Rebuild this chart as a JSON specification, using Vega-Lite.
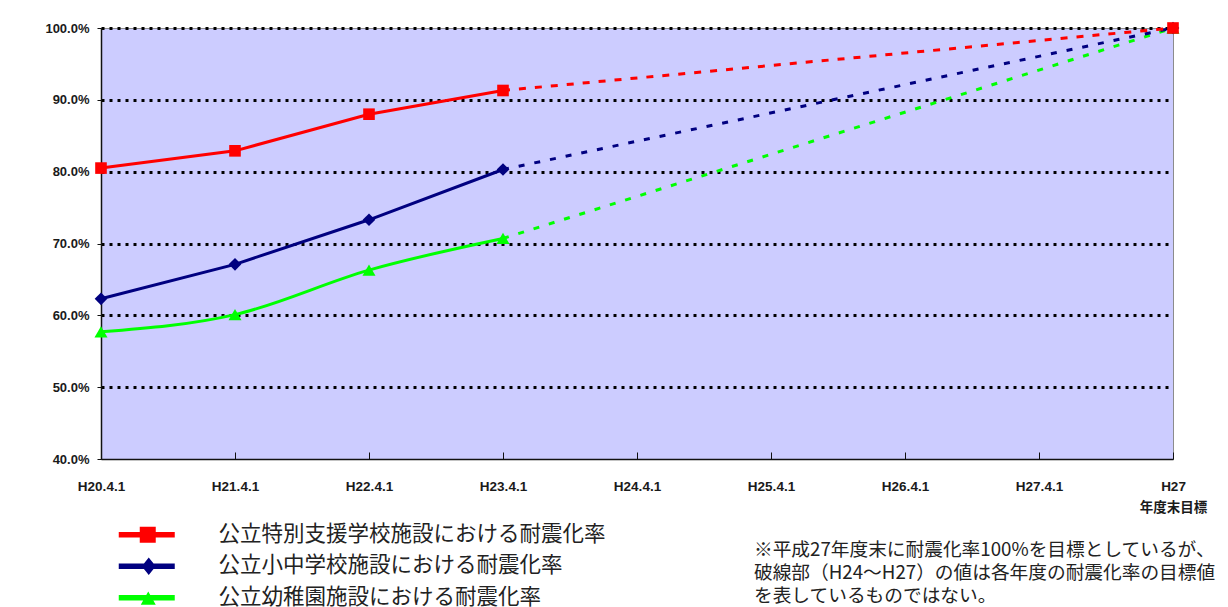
{
  "$schema": "https://vega.github.io/schema/vega-lite/v6.json",
  "width": 1072,
  "height": 431,
  "autosize": {"type": "none"},
  "padding": {"left": 101, "top": 28, "right": 55, "bottom": 148},
  "background": "white",
  "config": {
    "view": {"fill": "#CCCCFF", "stroke": "#8C8C8C", "strokeWidth": 1},
    "legend": {
      "labelFont": "Noto Sans CJK JP",
      "labelFontSize": 21.5,
      "labelColor": "#222222",
      "labelLimit": 600,
      "symbolSize": 400,
      "symbolStrokeWidth": 0,
      "symbolOpacity": 1,
      "padding": 0
    }
  },
  "title": {
    "text": [
      "※平成27年度末に耐震化率100%を目標としているが、",
      "破線部（H24～H27）の値は各年度の耐震化率の目標値",
      "を表しているものではない。"
    ],
    "orient": "bottom",
    "anchor": "start",
    "frame": "group",
    "dx": 653,
    "offset": -68,
    "font": "Noto Sans CJK JP",
    "fontSize": 18.7,
    "fontWeight": "normal",
    "color": "#222222",
    "lineHeight": 23
  },
  "data": {
    "values": [
      {"series": "公立特別支援学校施設における耐震化率", "period": "H20.4.1", "rate": 0.805},
      {"series": "公立特別支援学校施設における耐震化率", "period": "H21.4.1", "rate": 0.829},
      {"series": "公立特別支援学校施設における耐震化率", "period": "H22.4.1", "rate": 0.880},
      {"series": "公立特別支援学校施設における耐震化率", "period": "H23.4.1", "rate": 0.913},
      {"series": "公立特別支援学校施設における耐震化率", "period": "H27", "rate": 1.0},
      {"series": "公立小中学校施設における耐震化率", "period": "H20.4.1", "rate": 0.623},
      {"series": "公立小中学校施設における耐震化率", "period": "H21.4.1", "rate": 0.671},
      {"series": "公立小中学校施設における耐震化率", "period": "H22.4.1", "rate": 0.733},
      {"series": "公立小中学校施設における耐震化率", "period": "H23.4.1", "rate": 0.803},
      {"series": "公立小中学校施設における耐震化率", "period": "H27", "rate": 1.0},
      {"series": "公立幼稚園施設における耐震化率", "period": "H20.4.1", "rate": 0.577},
      {"series": "公立幼稚園施設における耐震化率", "period": "H21.4.1", "rate": 0.601},
      {"series": "公立幼稚園施設における耐震化率", "period": "H22.4.1", "rate": 0.663},
      {"series": "公立幼稚園施設における耐震化率", "period": "H23.4.1", "rate": 0.707},
      {"series": "公立幼稚園施設における耐震化率", "period": "H27", "rate": 1.0}
    ]
  },
  "encoding": {
    "x": {
      "field": "period",
      "type": "ordinal",
      "scale": {
        "type": "point",
        "padding": 0,
        "domain": ["H20.4.1", "H21.4.1", "H22.4.1", "H23.4.1", "H24.4.1", "H25.4.1", "H26.4.1", "H27.4.1", "H27"]
      },
      "axis": {
        "title": null,
        "labelAngle": 0,
        "labelFont": "Liberation Sans, Noto Sans CJK JP",
        "labelFontSize": 13.5,
        "labelFontWeight": "bold",
        "labelColor": "#1A1A1A",
        "labelLineHeight": 21,
        "labelExpr": "datum.label == 'H27' ? ['H27', '年度末目標'] : datum.label",
        "labelPadding": 27,
        "domainColor": "#111111",
        "domainWidth": 1.5,
        "ticks": true,
        "tickColor": "#111111",
        "tickWidth": 1,
        "tickSize": -7,
        "grid": false
      }
    },
    "y": {
      "field": "rate",
      "type": "quantitative",
      "scale": {"domain": [0.4, 1.0], "nice": false, "zero": false},
      "axis": {
        "title": null,
        "values": [0.4, 0.5, 0.6, 0.7, 0.8, 0.9, 1.0],
        "format": ".1%",
        "labelFont": "Liberation Sans, sans-serif",
        "labelFontSize": 13,
        "labelFontWeight": "bold",
        "labelColor": "#1A1A1A",
        "labelPadding": 8,
        "domainColor": "#111111",
        "domainWidth": 1.5,
        "tickColor": "#111111",
        "tickSize": 4,
        "grid": true,
        "gridColor": "#000000",
        "gridWidth": 3,
        "gridDash": [3, 5],
        "gridOpacity": {"condition": {"test": "datum.value < 0.45", "value": 0}, "value": 1}
      }
    }
  },
  "layer": [
    {
      "transform": [
        {"filter": "datum.period == 'H23.4.1' || datum.period == 'H27'"},
        {"filter": "datum.series == '公立幼稚園施設における耐震化率'"}
      ],
      "mark": {"type": "line", "strokeWidth": 3, "strokeDash": [6, 10], "color": "#00FF00"}
    },
    {
      "transform": [
        {"filter": "datum.period == 'H23.4.1' || datum.period == 'H27'"},
        {"filter": "datum.series == '公立小中学校施設における耐震化率'"}
      ],
      "mark": {"type": "line", "strokeWidth": 3, "strokeDash": [6, 10], "color": "#000080"}
    },
    {
      "transform": [
        {"filter": "datum.period == 'H23.4.1' || datum.period == 'H27'"},
        {"filter": "datum.series == '公立特別支援学校施設における耐震化率'"}
      ],
      "mark": {"type": "line", "strokeWidth": 3, "strokeDash": [7, 9], "color": "#FF0000"}
    },
    {
      "transform": [
        {"filter": "datum.period != 'H27'"},
        {"filter": "datum.series == '公立幼稚園施設における耐震化率'"}
      ],
      "mark": {"type": "line", "strokeWidth": 3, "interpolate": "monotone", "color": "#00FF00"}
    },
    {
      "transform": [
        {"filter": "datum.period != 'H27'"},
        {"filter": "datum.series == '公立小中学校施設における耐震化率'"}
      ],
      "mark": {"type": "line", "strokeWidth": 3, "color": "#000080"}
    },
    {
      "transform": [
        {"filter": "datum.period != 'H27'"},
        {"filter": "datum.series == '公立特別支援学校施設における耐震化率'"}
      ],
      "mark": {"type": "line", "strokeWidth": 3, "color": "#FF0000"}
    },
    {
      "transform": [{"filter": "datum.series == '公立幼稚園施設における耐震化率'"}],
      "mark": {"type": "point", "shape": "triangle-up", "filled": true, "size": 170, "opacity": 1, "color": "#00FF00"}
    },
    {
      "transform": [{"filter": "datum.series == '公立小中学校施設における耐震化率'"}],
      "mark": {"type": "point", "shape": "diamond", "filled": true, "size": 160, "opacity": 1, "color": "#000080"}
    },
    {
      "transform": [{"filter": "datum.series == '公立特別支援学校施設における耐震化率'"}],
      "mark": {"type": "point", "shape": "square", "filled": true, "size": 135, "opacity": 1, "color": "#FF0000"}
    },
    {
      "transform": [{"filter": "false"}],
      "mark": {"type": "point", "filled": true, "opacity": 1},
      "encoding": {
        "color": {
          "field": "series",
          "type": "nominal",
          "scale": {
            "domain": ["公立特別支援学校施設における耐震化率", "公立小中学校施設における耐震化率", "公立幼稚園施設における耐震化率"],
            "range": ["#FF0000", "#000080", "#00FF00"]
          },
          "legend": {"title": null, "orient": "none", "legendX": 35, "legendY": 496, "labelOffset": 61, "rowPadding": 8.5}
        },
        "shape": {
          "field": "series",
          "type": "nominal",
          "scale": {
            "domain": ["公立特別支援学校施設における耐震化率", "公立小中学校施設における耐震化率", "公立幼稚園施設における耐震化率"],
            "range": [
              "M-2.8,-0.28H2.8V0.28H-2.8Z M-0.7,-0.8H0.9V0.8H-0.7Z",
              "M-2.8,-0.28H2.8V0.28H-2.8Z M0.2,-0.88L0.9,0L0.2,0.88L-0.5,0Z",
              "M-2.8,-0.28H2.8V0.28H-2.8Z M0.15,-0.63L0.9,0.7H-0.6Z"
            ]
          },
          "legend": {"title": null, "orient": "none", "legendX": 35, "legendY": 496, "labelOffset": 61, "rowPadding": 8.5}
        }
      }
    }
  ]
}
